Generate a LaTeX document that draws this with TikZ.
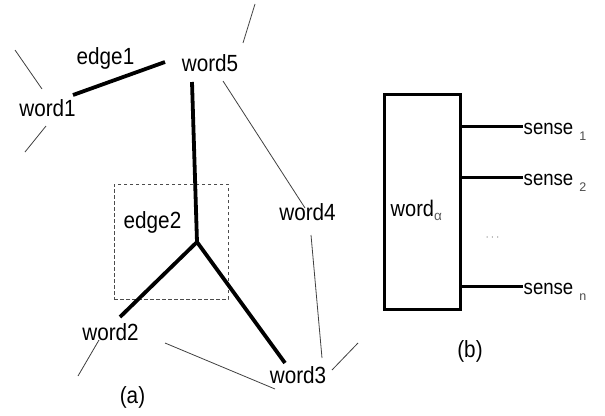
\documentclass[tikz,border=0pt]{standalone}
\usepackage{fontspec}
\setmainfont{Liberation Sans}
% labels are set a little taller than wide
\newcommand{\tallbox}[1]{\scalebox{1}[1.13]{#1}}
\newcommand{\subidx}[1]{\raisebox{-6pt}{\fontsize{12.5}{12.5}\selectfont\textcolor{black!70}{#1}}}
\begin{document}
\begin{tikzpicture}[x=1pt,y=-1pt,
  lbl/.style={inner sep=0pt,anchor=base,font=\fontsize{20.7}{20.7}\selectfont},
  senselbl/.style={inner sep=0pt,anchor=base west,font=\fontsize{18.6}{18.6}\selectfont},
  heavy/.style={line width=3.8pt},
  thin/.style={line width=0.8pt,black!75},
  boxline/.style={line width=2.8pt}]
\useasboundingbox (0,0) rectangle (605,415);
% ---- panel (a): word graph ----
\node[lbl] (w1) at (47.5,116) {\tallbox{word1}};
\node[lbl] (e1) at (105.5,64) {\tallbox{edge1}};
\node[lbl] (w5) at (210,71) {\tallbox{word5}};
\node[lbl] (e2) at (152.5,228) {\tallbox{edge2}};
\node[lbl] (w4) at (307.5,220) {\tallbox{word4}};
\node[lbl] (w2) at (110.5,340) {\tallbox{word2}};
\node[lbl] (w3) at (298,383) {\tallbox{word3}};
\node[lbl] (capa) at (132.5,403) {\tallbox{(a)}};
% hyperedge boundary
\node[draw,black!70,line width=0.8pt,dash pattern=on 3.5pt off 2.5pt,
      minimum width=114pt,minimum height=115pt,inner sep=0pt] (hb) at (171,241.5) {};
% heavy edges
\coordinate (e1a) at (73,95);
\coordinate (e1b) at (165,62);
\draw[heavy] (e1a) -- (e1b);
\coordinate (j) at (197,242);
\coordinate (w5b) at (192,82);
\coordinate (w2t) at (120,317);
\coordinate (w3t) at (285,363);
\draw[heavy] (w5b) -- (j);
\draw[heavy] (w2t) -- (j) -- (w3t);
% thin links
\coordinate (a1) at (15,50);  \coordinate (a2) at (42,89);
\coordinate (b1) at (46,126); \coordinate (b2) at (25,152);
\coordinate (c1) at (243,43); \coordinate (c2) at (255,4);
\coordinate (d1) at (223,81); \coordinate (d2) at (305,208);
\coordinate (f1) at (99,340); \coordinate (f2) at (78,376);
\coordinate (g1) at (165,343); \coordinate (g2) at (275,389);
\coordinate (h1) at (311,235); \coordinate (h2) at (322,358);
\coordinate (k1) at (332,370); \coordinate (k2) at (358,343);
\draw[thin] (a1) -- (a2);
\draw[thin] (b1) -- (b2);
\draw[thin] (c1) -- (c2);
\draw[thin] (d1) -- (d2);
\draw[thin] (f1) -- (f2);
\draw[thin] (g1) -- (g2);
\draw[thin] (h1) -- (h2);
\draw[thin] (k1) -- (k2);
% ---- panel (b): word and its senses ----
\node[draw,boxline,minimum width=76pt,minimum height=215pt,inner sep=0pt] (wa) at (422.5,202) {};
\node[senselbl,font=\fontsize{20}{20}\selectfont] (wal) at (390.5,216.5)
  {\tallbox{word}\raisebox{-4pt}{\fontsize{13.5}{13.5}\selectfont\textcolor{black!65}{α}}};
\node[senselbl] (s1) at (523.5,134.5) {\tallbox{sense}\hspace{6pt}\subidx{1}};
\node[senselbl] (s2) at (523.5,185) {\tallbox{sense}\hspace{6pt}\subidx{2}};
\node[senselbl] (sn) at (523.5,294) {\tallbox{sense}\hspace{6pt}\subidx{n}};
\node[inner sep=0pt,text=black!50,font=\fontsize{12}{12}\selectfont] (dots) at (492.5,238) {$\cdots$};
\node[lbl] (capb) at (470,357) {\tallbox{(b)}};
\coordinate (t1) at (523,126.7);
\coordinate (t2) at (523,177.3);
\coordinate (tn) at (523,286.7);
\draw[line width=3pt] (wa.east |- t1) -- (t1);
\draw[line width=3pt] (wa.east |- t2) -- (t2);
\draw[line width=3pt] (wa.east |- tn) -- (tn);
\end{tikzpicture}
\end{document}
